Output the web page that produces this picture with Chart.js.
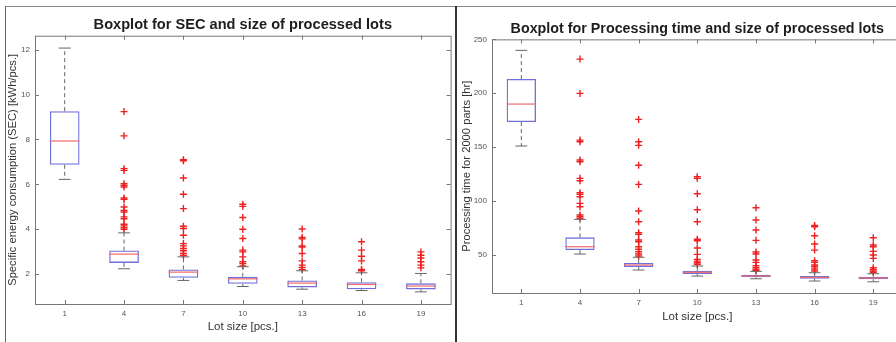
<!DOCTYPE html>
<html>
<head>
<meta charset="utf-8">
<script src="https://cdn.jsdelivr.net/npm/chart.js@4.4.1/dist/chart.umd.min.js"></script>
<style>
  body { margin: 0; background: #fff; }
  #page { position: relative; width: 896px; height: 342px; overflow: hidden; background: #fff; }
  .panel { position: absolute; top: 0; height: 342px; overflow: hidden; }
  #left { left: 0; width: 456px; }
  #right { left: 456px; width: 440px; }
  .line { position: absolute; }
</style>
</head>
<body>
<div id="page">
  <div class="panel" id="left"><canvas id="secChart" width="456" height="342"></canvas></div>
  <div class="panel" id="right"><canvas id="timeChart" width="452" height="342"></canvas></div>
  <div class="line" style="left:5px;top:6px;width:891px;height:1px;background:#8a8a8a"></div>
  <div class="line" style="left:5px;top:6px;width:1px;height:336px;background:#666"></div>
  <div class="line" style="left:455px;top:6px;width:2px;height:336px;background:#333"></div>
</div>
<script>
// lot sizes
const lotSizes = ["1", "4", "7", "10", "13", "16", "19"];

// SEC [kWh/pcs.]
const secLowWhisker = [6.22, 2.24, 1.72, 1.45, 1.33, 1.27, 1.21];
const secQ1 = [6.87, 2.50, 1.84, 1.57, 1.41, 1.33, 1.32];
const secMedian = [7.93, 2.89, 2.09, 1.79, 1.60, 1.54, 1.47];
const secQ3 = [9.26, 3.05, 2.21, 1.88, 1.72, 1.64, 1.59];
const secHighWhisker = [12.07, 3.84, 2.77, 2.33, 2.15, 2.06, 2.03];
const secOutliers = [
  [],
  [9.24, 8.16, 6.70, 6.62, 6.03, 5.96, 5.88, 5.39, 5.33, 4.99, 4.84, 4.77, 4.55, 4.47, 4.22, 4.15, 4.07, 4.00],
  [7.10, 7.05, 6.28, 5.56, 4.92, 4.13, 4.03, 3.73, 3.36, 3.26, 3.14, 3.04, 2.92, 2.83],
  [5.11, 5.02, 4.52, 4.00, 3.59, 3.07, 2.99, 2.77, 2.55, 2.47, 2.37],
  [4.01, 3.63, 3.57, 3.26, 3.21, 2.92, 2.59, 2.40, 2.30, 2.21],
  [3.44, 3.07, 2.80, 2.59, 2.21, 2.15],
  [2.99, 2.84, 2.72, 2.55, 2.40, 2.28]
];
const secTicks = [2, 4, 6, 8, 10, 12];

// processing time for 2000 parts [hr]
const timeLowWhisker = [151.1, 50.9, 36.1, 30.5, 28.0, 25.9, 25.2];
const timeQ1 = [173.3, 54.6, 38.9, 32.4, 29.3, 28.0, 27.5];
const timeMedian = [190.0, 57.7, 40.7, 34.0, 30.5, 29.3, 28.7];
const timeQ3 = [213.2, 66.4, 42.6, 35.4, 31.7, 30.5, 29.9];
const timeHighWhisker = [239.8, 83.1, 47.9, 39.8, 34.9, 33.6, 32.7];
const timeOutliers = [
  [],
  [231.7, 199.9, 156.6, 155.1, 138.1, 136.5, 121.1, 118.9, 107.8, 106.3, 104.1, 97.9, 94.8, 87.1, 85.5, 84.0],
  [175.8, 155.1, 151.7, 133.2, 115.5, 90.8, 80.9, 70.7, 69.2, 63.9, 62.3, 57.7, 55.3, 53.1, 50.9, 49.1],
  [122.6, 121.1, 106.8, 92.0, 80.9, 64.6, 63.3, 56.5, 50.6, 46.0, 44.4, 42.9, 41.4],
  [93.9, 82.5, 73.2, 63.6, 52.8, 50.9, 45.4, 43.2, 40.1, 38.2, 36.7, 35.4],
  [77.5, 76.2, 67.9, 60.2, 54.6, 44.7, 43.2, 40.7, 39.2, 37.0, 35.2],
  [66.0, 59.3, 57.7, 53.4, 50.0, 46.9, 38.2, 36.7, 35.2, 34.0]
];
const timeTicks = [50, 100, 150, 200, 250];

const FONT = "'Liberation Sans', Arial, sans-serif";

// whiskers, caps, medians, plot box and inward ticks (MATLAB look)
const boxplotExtras = {
  id: 'boxplotExtras',
  afterDatasetsDraw(chart, args, opts) {
    const ctx = chart.ctx;
    const x = chart.scales.x, y = chart.scales.y;
    const area = chart.chartArea;
    const band = (x.getPixelForValue(1) - x.getPixelForValue(0));
    ctx.save();
    lotSizes.forEach((lab, i) => {
      const cx = x.getPixelForValue(i);
      const yLo = y.getPixelForValue(opts.low[i]);
      const yQ1 = y.getPixelForValue(opts.q1[i]);
      const yMed = y.getPixelForValue(opts.med[i]);
      const yQ3 = y.getPixelForValue(opts.q3[i]);
      const yHi = y.getPixelForValue(opts.high[i]);
      ctx.strokeStyle = '#666';
      ctx.lineWidth = 1;
      ctx.setLineDash([4, 3]);
      ctx.beginPath();
      ctx.moveTo(cx, yQ3); ctx.lineTo(cx, yHi);
      ctx.moveTo(cx, yQ1); ctx.lineTo(cx, yLo);
      ctx.stroke();
      ctx.setLineDash([]);
      const cap = band * 0.1;
      ctx.beginPath();
      ctx.moveTo(cx - cap, yHi); ctx.lineTo(cx + cap, yHi);
      ctx.moveTo(cx - cap, yLo); ctx.lineTo(cx + cap, yLo);
      ctx.stroke();
      const half = band * 0.25;
      ctx.strokeStyle = '#f06a6a';
      ctx.lineWidth = 1.2;
      ctx.beginPath();
      ctx.moveTo(cx - half, yMed); ctx.lineTo(cx + half, yMed);
      ctx.stroke();
    });
    // box and ticks
    ctx.strokeStyle = '#777';
    ctx.lineWidth = 1;
    ctx.strokeRect(area.left + 0.5, area.top + 0.5, area.right - area.left, area.bottom - area.top);
    ctx.beginPath();
    lotSizes.forEach((lab, i) => {
      const px = Math.round(x.getPixelForValue(i)) + 0.5;
      ctx.moveTo(px, area.bottom); ctx.lineTo(px, area.bottom - 4);
      ctx.moveTo(px, area.top); ctx.lineTo(px, area.top + 4);
    });
    opts.ticks.forEach(v => {
      const py = Math.round(y.getPixelForValue(v)) + 0.5;
      ctx.moveTo(area.left, py); ctx.lineTo(area.left + 4, py);
      ctx.moveTo(area.right, py); ctx.lineTo(area.right - 4, py);
    });
    ctx.stroke();
    ctx.restore();
  }
};

function makeChart(id, cfg) {
  const outlierPoints = [];
  cfg.outliers.forEach((list, i) => list.forEach(v => outlierPoints.push({ x: lotSizes[i], y: v })));
  return new Chart(document.getElementById(id), {
    type: 'bar',
    data: {
      labels: lotSizes,
      datasets: [
        {
          type: 'line',
          data: outlierPoints,
          showLine: false,
          pointStyle: 'cross',
          pointRadius: 3.5,
          pointBorderWidth: 1.4,
          pointBorderColor: '#ee2020',
          borderColor: '#ee2020'
        },
        {
          data: cfg.q1.map((v, i) => [v, cfg.q3[i]]),
          backgroundColor: 'rgba(255,255,255,0)',
          borderColor: '#7070dc',
          borderWidth: 1.3,
          borderSkipped: false,
          categoryPercentage: 1,
          barPercentage: 0.5
        }
      ]
    },
    options: {
      responsive: false,
      animation: false,
      events: [],
      layout: { padding: { left: 0, right: 5, top: 0, bottom: 0 } },
      plugins: {
        legend: { display: false },
        tooltip: { enabled: false },
        title: {
          display: true,
          text: cfg.title,
          fullSize: false,
          color: '#1e1e1e',
          font: { family: FONT, size: cfg.titleSize, weight: 'bold' },
          padding: cfg.titlePad
        },
        boxplotExtras: {
          low: cfg.low, q1: cfg.q1, med: cfg.median, q3: cfg.q3, high: cfg.high, ticks: cfg.ticks
        }
      },
      scales: {
        x: {
          type: 'category',
          offset: true,
          grid: { display: false, drawTicks: false },
          border: { display: false },
          ticks: { color: '#555', font: { family: FONT, size: 8 }, padding: 5, maxRotation: 0 },
          title: {
            display: true,
            text: 'Lot size [pcs.]',
            color: '#333',
            font: { family: FONT, size: 11.5 },
            padding: { top: 0, bottom: cfg.xTitleBottom }
          },
          afterFit(scale) { scale.height = cfg.xHeight; }
        },
        y: {
          min: cfg.min,
          max: cfg.max,
          grid: { display: false, drawTicks: false },
          border: { display: false },
          ticks: { color: '#555', font: { family: FONT, size: 8 }, padding: 5 },
          afterBuildTicks(scale) { scale.ticks = cfg.ticks.map(v => ({ value: v })); },
          title: {
            display: true,
            text: cfg.yTitle,
            color: '#333',
            font: { family: FONT, size: 11.2 },
            padding: { top: cfg.yTitleTop, bottom: 0 }
          },
          afterFit(scale) { scale.width = cfg.yWidth; }
        }
      }
    },
    plugins: [boxplotExtras]
  });
}

makeChart('secChart', {
  title: 'Boxplot for SEC and size of processed lots',
  titleSize: 14.6,
  titlePad: { top: 16.6, bottom: 1.6 },
  yTitle: 'Specific energy consumption (SEC) [kWh/pcs.]',
  low: secLowWhisker, q1: secQ1, median: secMedian, q3: secQ3, high: secHighWhisker,
  outliers: secOutliers, ticks: secTicks,
  min: 0.67, max: 12.62,
  xHeight: 38, xTitleBottom: 8,
  yWidth: 35, yTitleTop: 6
});

makeChart('timeChart', {
  title: 'Boxplot for Processing time and size of processed lots',
  titleSize: 14.3,
  titlePad: { top: 20.9, bottom: 1.3 },
  yTitle: 'Processing time for 2000 parts [hr]',
  low: timeLowWhisker, q1: timeQ1, median: timeMedian, q3: timeQ3, high: timeHighWhisker,
  outliers: timeOutliers, ticks: timeTicks,
  min: 14.8, max: 250,
  xHeight: 49, xTitleBottom: 18,
  yWidth: 36, yTitleTop: 4
});
</script>
</body>
</html>
